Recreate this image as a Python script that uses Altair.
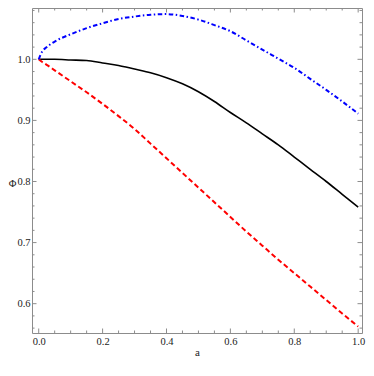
import altair as alt
import pandas as pd

# ---- data ----
a_vals = [0.0, 0.01, 0.025, 0.05, 0.1, 0.15, 0.2, 0.25, 0.3, 0.35, 0.4, 0.45,
          0.5, 0.55, 0.6, 0.65, 0.7, 0.75, 0.8, 0.85, 0.9, 0.95, 1.0]
phi_black = [1.0, 1.0, 1.0, 1.0, 0.999, 0.998, 0.994, 0.990, 0.984, 0.978, 0.970, 0.960,
             0.947, 0.931, 0.913, 0.896, 0.878, 0.860, 0.840, 0.820, 0.800, 0.779, 0.758]
phi_red = [1.0, 0.996, 0.991, 0.982, 0.964, 0.946, 0.927, 0.907, 0.886, 0.862, 0.838, 0.814,
           0.790, 0.766, 0.742, 0.718, 0.695, 0.672, 0.650, 0.628, 0.606, 0.584, 0.5625]
phi_blue = [1.0, 1.012, 1.020, 1.029, 1.041, 1.051, 1.059, 1.066, 1.070, 1.073, 1.074, 1.071,
            1.065, 1.056, 1.046, 1.031, 1.016, 1.001, 0.986, 0.968, 0.950, 0.931, 0.911]

x_major = [0.0, 0.2, 0.4, 0.6, 0.8, 1.0]
x_minor = [0.05, 0.1, 0.15, 0.25, 0.3, 0.35, 0.45, 0.5, 0.55, 0.65, 0.7, 0.75, 0.85, 0.9, 0.95]
y_major = [0.6, 0.7, 0.8, 0.9, 1.0]
y_minor = [0.56, 0.58, 0.62, 0.64, 0.66, 0.68, 0.72, 0.74, 0.76, 0.78, 0.82, 0.84, 0.86, 0.88,
           0.92, 0.94, 0.96, 0.98, 1.02, 1.04, 1.06, 1.08]

W, H = 330, 325
FRAME = "#8c8c8c"
FONT = "Liberation Serif"

xs = alt.Scale(domain=[-0.021, 1.012], nice=False, zero=False)
ys = alt.Scale(domain=[0.552, 1.084], nice=False, zero=False)

df = pd.DataFrame({"a": a_vals, "black": phi_black, "red": phi_red, "blue": phi_blue})

x_axis = alt.Axis(values=x_major, format=".1f", tickSize=0, domain=False, grid=False,
                  labelFont=FONT, labelFontSize=10.5, labelColor="#222", labelPadding=3,
                  title="a", titleFont=FONT, titleFontSize=11, titleFontWeight="normal",
                  titleColor="#222", titlePadding=0)
y_axis = alt.Axis(values=y_major, format=".1f", tickSize=0, domain=False, grid=False,
                  labelFont=FONT, labelFontSize=10.5, labelColor="#222", labelPadding=2,
                  title="Φ", titleFont=FONT, titleFontSize=10.5, titleFontWeight="normal",
                  titleColor="#222", titleAngle=0, titleAlign="center", titleBaseline="middle",
                  titleX=-20, titleY=175)

X = lambda f: alt.X(f, scale=xs, axis=x_axis)
Y = lambda f: alt.Y(f, scale=ys, axis=y_axis)

base = alt.Chart(df)
black = base.mark_line(color="black", strokeWidth=1.6, interpolate="monotone").encode(
    x=X("a:Q"), y=Y("black:Q"))
red = base.mark_line(color="#ff0000", strokeWidth=2, strokeDash=[5, 3], interpolate="monotone").encode(
    x=X("a:Q"), y=Y("red:Q"))
blue = base.mark_line(color="#0000ff", strokeWidth=2, strokeDash=[4.5, 2.5, 1.5, 2.5],
                      interpolate="monotone").encode(x=X("a:Q"), y=Y("blue:Q"))

def xticks(vals, length):
    d = pd.DataFrame({"a": vals})
    bot = alt.Chart(d).mark_rule(color=FRAME, strokeWidth=1).encode(
        x=X("a:Q"), y=alt.value(H), y2=alt.value(H - length))
    top = alt.Chart(d).mark_rule(color=FRAME, strokeWidth=1).encode(
        x=X("a:Q"), y=alt.value(0), y2=alt.value(length))
    return [bot, top]

def yticks(vals, length):
    d = pd.DataFrame({"black": vals})
    left = alt.Chart(d).mark_rule(color=FRAME, strokeWidth=1).encode(
        y=Y("black:Q"), x=alt.value(0), x2=alt.value(length))
    right = alt.Chart(d).mark_rule(color=FRAME, strokeWidth=1).encode(
        y=Y("black:Q"), x=alt.value(W), x2=alt.value(W - length))
    return [left, right]

ticks = xticks(x_major, 4.5) + xticks(x_minor, 2.5) + yticks(y_major, 4.5) + yticks(y_minor, 2.5)

chart = alt.layer(black, red, blue, *ticks).properties(
    width=W, height=H,
    autosize=alt.AutoSizeParams(type="none"),
    padding={"left": 24, "top": 0, "right": 4, "bottom": 25},
    background="white",
).configure_view(stroke=FRAME, strokeWidth=1)

chart.save("out.html", embed_options={"renderer": "svg", "actions": False})
